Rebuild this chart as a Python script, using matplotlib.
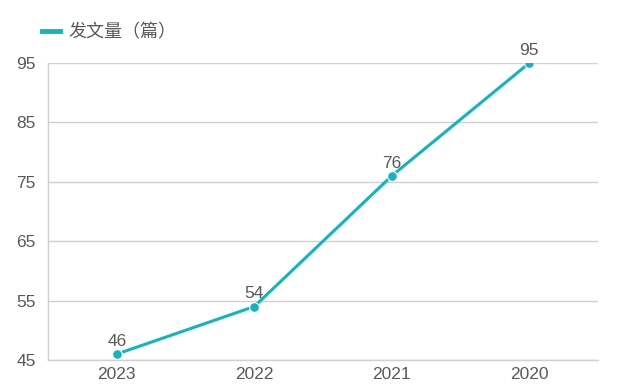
import matplotlib
matplotlib.use('Agg')
import matplotlib.pyplot as plt
from matplotlib.lines import Line2D

years = ['2023', '2022', '2021', '2020']
counts = [46, 54, 76, 95]
yticks = [45, 55, 65, 75, 85, 95]

plt.rcParams['font.family'] = ['Liberation Sans', 'Noto Sans CJK SC', 'DejaVu Sans']

color = '#12b5bf'
text_color = '#595959'
grid_color = '#d0d0d0'

fig = plt.figure(figsize=(6.17, 3.88), dpi=100)
ax = fig.add_axes([48 / 617, 1 - 360 / 388, 550 / 617, 297 / 388])

x = range(len(years))
ax.plot(x, counts, color=color, lw=2.2, marker='o', ms=7,
        markeredgecolor='white', markeredgewidth=0.8, zorder=3)
for xi, v in zip(x, counts):
    ax.text(xi, v + 0.9, str(v), ha='center', va='bottom', fontsize=12.5, color=text_color)

ax.set_xlim(-0.5, len(years) - 0.5)
ax.set_ylim(45, 95)
ax.set_xticks(list(x))
ax.set_xticklabels(years)
ax.set_yticks(yticks)
ax.tick_params(axis='both', length=0, labelsize=12.5, labelcolor=text_color)
ax.tick_params(axis='x', pad=5)
ax.tick_params(axis='y', pad=9)
ax.grid(axis='y', color=grid_color, lw=1)
ax.set_axisbelow(True)
for s in ['top', 'right']:
    ax.spines[s].set_visible(False)
for s in ['left', 'bottom']:
    ax.spines[s].set_color(grid_color)
    ax.spines[s].set_linewidth(1)

h = Line2D([], [], color=color, lw=3.5)
fig.legend(handles=[h], labels=['发文量（篇）'], loc='upper left',
           bbox_to_anchor=(26 / 617, 1 - 8 / 388), frameon=False,
           handlelength=1.0, handletextpad=0.45, fontsize=13, labelcolor=text_color)

fig.savefig('out.png', dpi=100)
